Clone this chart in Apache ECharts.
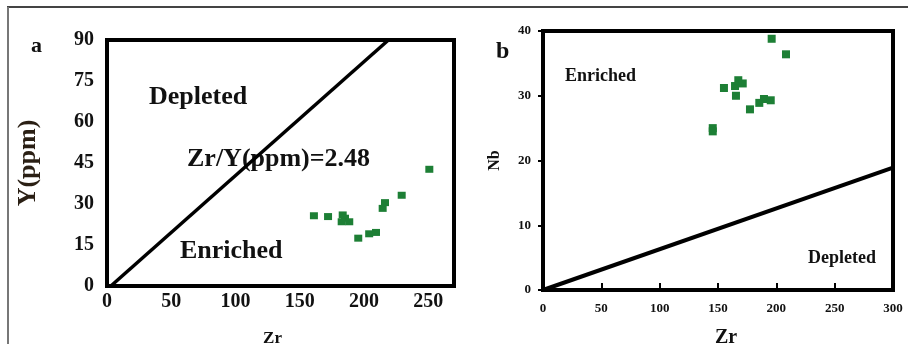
<!DOCTYPE html>
<html>
<head>
<meta charset="utf-8">
<script src="https://cdn.jsdelivr.net/npm/echarts@6/dist/echarts.min.js"></script>
<style>
  html, body { margin: 0; padding: 0; background: #fff; }
  #chart { width: 908px; height: 344px; }
</style>
</head>
<body>
<div id="chart"></div>
<script>
// panel a: Zr vs Y(ppm)
const zrA = [161, 172, 183.4, 185.2, 182.6, 188.5, 195.5, 204, 209.3, 214.5, 216.3, 229.3, 250.8]
const yA = [25.7, 25.4, 26.0, 24.8, 23.5, 23.5, 17.5, 19.1, 19.6, 28.4, 30.5, 33.2, 42.7]
// Zr/Y = 2.48 reference line (ends)
const lineA = [[3, 0], [219, 90]]
const ticksXA = [0, 50, 100, 150, 200, 250]

// panel b: Zr vs Nb
const zrB = [196, 208.3, 155.1, 164.6, 167.4, 171.2, 165.4, 177.4, 185.4, 189.4, 195.2, 145.5, 145.5]
const nbB = [38.8, 36.4, 31.2, 31.5, 32.4, 31.9, 30.0, 27.9, 28.9, 29.5, 29.3, 25.0, 24.5]
const lineB = [[0, 0], [300, 18.9]]

const SERIF = '"Liberation Serif", "DejaVu Serif", serif'
const GREEN = '#1d7f35'

const pairs = (xs, ys) => xs.map((x, i) => [x, ys[i]])

const chart = echarts.init(document.getElementById('chart'))

const boldText = (size, color = '#111') => ({
  fontFamily: SERIF,
  fontWeight: 'bold',
  fontSize: size,
  color,
})

chart.setOption({
  animation: false,
  grid: [
    {
      left: 107, top: 40, width: 347, height: 246,
      outerBoundsMode: 'none', containLabel: false,
      show: true, borderColor: '#000', borderWidth: 4,
    },
    {
      left: 543, top: 31, width: 350, height: 259,
      outerBoundsMode: 'none', containLabel: false,
      show: true, borderColor: '#000', borderWidth: 4,
    },
  ],
  xAxis: [
    {
      gridIndex: 0,
      type: 'value',
      min: 0,
      max: 270,
      interval: 50,
      name: 'Zr',
      nameLocation: 'middle',
      nameGap: 44,
      nameTextStyle: { ...boldText(17), padding: [0, 16, 0, 0] },
      axisLine: { show: true, lineStyle: { color: '#000', width: 4 } },
      axisTick: { show: false },
      splitLine: { show: false },
      axisLabel: {
        ...boldText(20),
        margin: 6,
        formatter: (v) => (ticksXA.includes(v) ? String(v) : ''),
      },
    },
    {
      gridIndex: 1,
      type: 'value',
      min: 0,
      max: 300,
      interval: 50,
      name: 'Zr',
      nameLocation: 'middle',
      nameGap: 38,
      nameTextStyle: { ...boldText(20), padding: [0, 0, 0, 16] },
      axisLine: { show: true, lineStyle: { color: '#000', width: 4 } },
      axisTick: { show: true, inside: true, length: 7, lineStyle: { color: '#000', width: 2 } },
      splitLine: { show: false },
      axisLabel: { ...boldText(13), margin: 12 },
    },
  ],
  yAxis: [
    {
      gridIndex: 0,
      type: 'value',
      min: 0,
      max: 90,
      interval: 15,
      name: 'Y(ppm)',
      nameLocation: 'middle',
      nameRotate: 90,
      nameGap: 66,
      nameTextStyle: boldText(26, '#2a1f14'),
      axisLine: { show: true, lineStyle: { color: '#000', width: 4 } },
      axisTick: { show: false },
      splitLine: { show: false },
      axisLabel: { ...boldText(20), margin: 13 },
    },
    {
      gridIndex: 1,
      type: 'value',
      min: 0,
      max: 40,
      interval: 10,
      name: 'Nb',
      nameLocation: 'middle',
      nameRotate: 90,
      nameGap: 40,
      nameTextStyle: boldText(16),
      axisLine: { show: true, lineStyle: { color: '#000', width: 4 } },
      axisTick: { show: true, length: 5, lineStyle: { color: '#000', width: 2 } },
      splitLine: { show: false },
      axisLabel: { ...boldText(13), margin: 12 },
    },
  ],
  series: [
    {
      type: 'line',
      xAxisIndex: 0,
      yAxisIndex: 0,
      data: lineA,
      showSymbol: false,
      silent: true,
      lineStyle: { color: '#000', width: 3.5 },
    },
    {
      type: 'scatter',
      xAxisIndex: 0,
      yAxisIndex: 0,
      data: pairs(zrA, yA),
      symbol: 'rect',
      symbolSize: [8, 7],
      itemStyle: { color: GREEN, opacity: 1 },
    },
    {
      type: 'line',
      xAxisIndex: 1,
      yAxisIndex: 1,
      data: lineB,
      showSymbol: false,
      silent: true,
      lineStyle: { color: '#000', width: 4 },
    },
    {
      type: 'scatter',
      xAxisIndex: 1,
      yAxisIndex: 1,
      data: pairs(zrB, nbB),
      symbol: 'rect',
      symbolSize: [8, 8],
      itemStyle: { color: GREEN, opacity: 1 },
    },
  ],
  graphic: [
    // figure frame (top and left edges)
    { type: 'line', shape: { x1: 7, y1: 7, x2: 908, y2: 7 }, style: { stroke: '#444', lineWidth: 2 } },
    { type: 'line', shape: { x1: 8, y1: 7, x2: 8, y2: 344 }, style: { stroke: '#777', lineWidth: 2 } },
    // panel a texts
    { type: 'text', left: 31, top: 35, style: { text: 'a', font: `bold 22px ${SERIF}`, fill: '#111' } },
    { type: 'text', left: 149, top: 84, style: { text: 'Depleted', font: `bold 26px ${SERIF}`, fill: '#111' } },
    { type: 'text', left: 187, top: 146, style: { text: 'Zr/Y(ppm)=2.48', font: `bold 26px ${SERIF}`, fill: '#111' } },
    { type: 'text', left: 180, top: 238, style: { text: 'Enriched', font: `bold 26px ${SERIF}`, fill: '#111' } },
    // panel b texts
    { type: 'text', left: 496, top: 40, style: { text: 'b', font: `bold 24px ${SERIF}`, fill: '#111' } },
    { type: 'text', left: 565, top: 67, style: { text: 'Enriched', font: `bold 18px ${SERIF}`, fill: '#111' } },
    { type: 'text', left: 808, top: 249, style: { text: 'Depleted', font: `bold 18px ${SERIF}`, fill: '#111' } },
  ],
})
</script>
</body>
</html>
